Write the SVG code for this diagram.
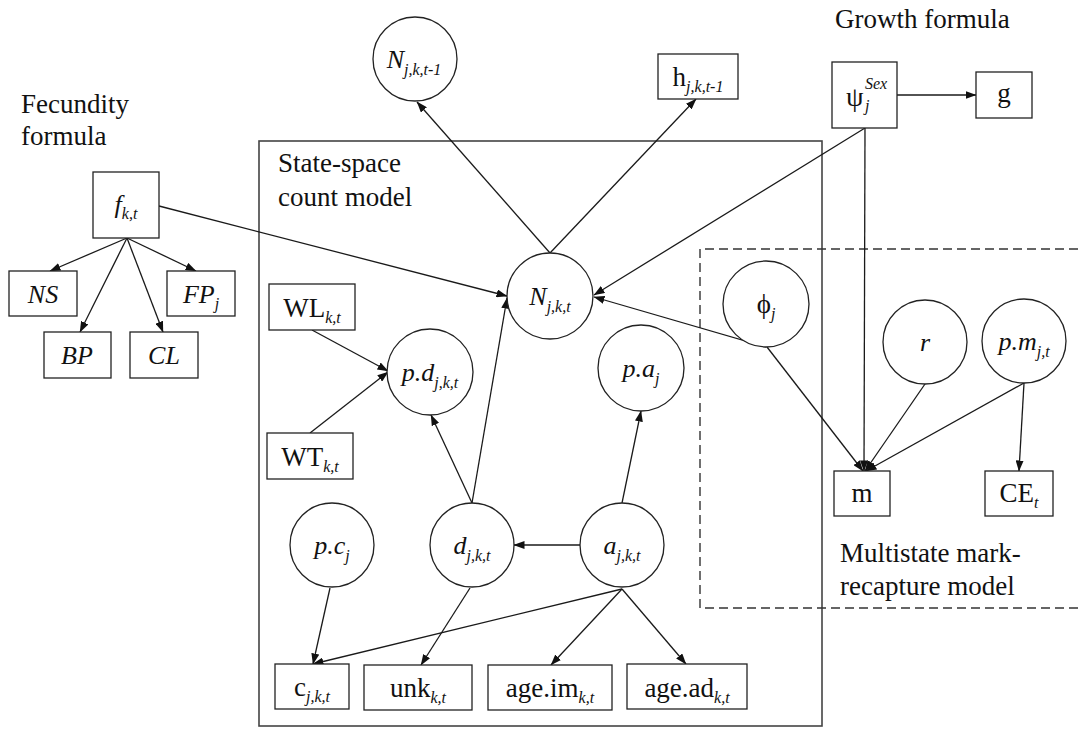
<svg xmlns="http://www.w3.org/2000/svg" width="1078" height="730" viewBox="0 0 1078 730">
<defs>
<marker id="ah" markerUnits="userSpaceOnUse" markerWidth="11" markerHeight="8" refX="10.5" refY="4" orient="auto">
<path d="M0,0 L11,4 L0,8 z" fill="#111"/>
</marker>
<style>
.bg{fill:#fff}
.shape{fill:#fff;stroke:#222;stroke-width:1.3}
.frame{fill:none;stroke:#444;stroke-width:1.6}
.dash{fill:none;stroke:#333;stroke-width:1.4;stroke-dasharray:9,5}
.edge{fill:none;stroke:#1a1a1a;stroke-width:1.3;marker-end:url(#ah)}
text{font-family:"Liberation Serif","Noto Serif","DejaVu Serif",FreeSerif,"Nimbus Roman","Nimbus Roman No9 L",Times,Tinos,serif;fill:#111}
.lbl{font-size:27px}
.t{font-size:27px;text-anchor:middle}
.c{font-size:26px;text-anchor:middle;font-style:italic}
.s{font-size:16px;font-style:italic}
</style>
</defs>
<rect class="bg" x="0" y="0" width="1078" height="730"/>

<g id="regions">
<rect class="frame" x="259" y="141" width="563" height="585"/>
<path class="dash" d="M1078,249 H700 V608 H1078"/>
<text class="lbl" x="21" y="113">Fecundity</text>
<text class="lbl" x="21" y="145">formula</text>
<text class="lbl" x="835" y="28">Growth formula</text>
<text class="lbl" x="278" y="172">State-space</text>
<text class="lbl" x="278" y="206">count model</text>
<text class="lbl" x="840" y="562">Multistate mark-</text>
<text class="lbl" x="840" y="595">recapture model</text>
</g>

<g id="connectors">
<path class="edge" d="M550,253 L417,102"/>
<path class="edge" d="M550,253 L696,99"/>
<path class="edge" d="M865,128 L594,295"/>
<path class="edge" d="M766,347 L594,297"/>
<path class="edge" d="M159,206 L507,296"/>
<path class="edge" d="M472,503 L507,298"/>
<path class="edge" d="M472,503 L431,415"/>
<path class="edge" d="M622,503 L641,411"/>
<path class="edge" d="M580,545 L514,545"/>
<path class="edge" d="M312,330 L388,371"/>
<path class="edge" d="M310,433 L388,372"/>
<path class="edge" d="M330,588 L313,664"/>
<path class="edge" d="M622,589 L313,664"/>
<path class="edge" d="M470,588 L421,665"/>
<path class="edge" d="M622,589 L551,665"/>
<path class="edge" d="M622,589 L686,664"/>
<path class="edge" d="M127,238 L50,271"/>
<path class="edge" d="M127,238 L196,271"/>
<path class="edge" d="M127,238 L80,332"/>
<path class="edge" d="M127,238 L163,332"/>
<path class="edge" d="M897,95 L976,95"/>
<path class="edge" d="M767,347 L863,471"/>
<path class="edge" d="M865,128 L864,471"/>
<path class="edge" d="M925,384 L865,471"/>
<path class="edge" d="M1024,383 L866,471"/>
<path class="edge" d="M1024,383 L1019,471"/>
</g>

<g id="n-Nprev"><circle class="shape" cx="415" cy="59" r="42"/><text class="c" x="414" y="68">N<tspan class="s" dy="7">j,k,t-1</tspan></text></g>
<g id="n-h"><rect class="shape" x="658" y="54" width="80" height="45"/><text class="t" x="698" y="86">h<tspan class="s" dy="6">j,k,t-1</tspan></text></g>
<g id="n-psi"><rect class="shape" x="832" y="62" width="65" height="66"/>
<text x="846" y="106" style="font-size:28px">ψ</text>
<text class="s" x="865" y="111">j</text>
<text class="s" x="865" y="89">Sex</text></g>
<g id="n-g"><rect class="shape" x="976" y="72" width="56" height="46"/><text class="t" x="1004" y="102">g</text></g>
<g id="n-f"><rect class="shape" x="93" y="172" width="66" height="66"/><text class="c" x="126" y="213">f<tspan class="s" dy="6">k,t</tspan></text></g>
<g id="n-NS"><rect class="shape" x="9" y="271" width="68" height="45"/><text class="c" x="43" y="303">NS</text></g>
<g id="n-FP"><rect class="shape" x="167" y="271" width="68" height="45"/><text class="c" x="201" y="303">FP<tspan class="s" dy="6">j</tspan></text></g>
<g id="n-BP"><rect class="shape" x="44" y="332" width="67" height="46"/><text class="c" x="77" y="364">BP</text></g>
<g id="n-CL"><rect class="shape" x="130" y="332" width="68" height="46"/><text class="c" x="164" y="364">CL</text></g>
<g id="n-N"><circle class="shape" cx="550" cy="296" r="43"/><text class="c" x="550" y="305">N<tspan class="s" dy="7">j,k,t</tspan></text></g>
<g id="n-WL"><rect class="shape" x="269" y="284" width="86" height="46"/><text class="t" x="312" y="317">WL<tspan class="s" dy="6">k,t</tspan></text></g>
<g id="n-WT"><rect class="shape" x="267" y="433" width="86" height="46"/><text class="t" x="310" y="466">WT<tspan class="s" dy="6">k,t</tspan></text></g>
<g id="n-pd"><circle class="shape" cx="430" cy="372" r="43"/><text class="c" x="430" y="381">p.d<tspan class="s" dy="7">j,k,t</tspan></text></g>
<g id="n-pa"><circle class="shape" cx="641" cy="368" r="43"/><text class="c" x="641" y="377">p.a<tspan class="s" dy="7">j</tspan></text></g>
<g id="n-phi"><circle class="shape" cx="766" cy="304" r="43"/><text class="t" x="766" y="313">ϕ<tspan class="s" dy="6">j</tspan></text></g>
<g id="n-r"><circle class="shape" cx="925" cy="342" r="42"/><text class="c" x="925" y="351">r</text></g>
<g id="n-pm"><circle class="shape" cx="1024" cy="341" r="42"/><text class="c" x="1024" y="350">p.m<tspan class="s" dy="7">j,t</tspan></text></g>
<g id="n-m"><rect class="shape" x="834" y="471" width="56" height="45"/><text class="t" x="862" y="502">m</text></g>
<g id="n-CE"><rect class="shape" x="985" y="471" width="68" height="45"/><text class="t" x="1019" y="502">CE<tspan class="s" dy="6">t</tspan></text></g>
<g id="n-pc"><circle class="shape" cx="332" cy="545" r="42"/><text class="c" x="332" y="554">p.c<tspan class="s" dy="7">j</tspan></text></g>
<g id="n-d"><circle class="shape" cx="472" cy="545" r="42"/><text class="c" x="472" y="554">d<tspan class="s" dy="7">j,k,t</tspan></text></g>
<g id="n-a"><circle class="shape" cx="622" cy="545" r="42"/><text class="c" x="622" y="554">a<tspan class="s" dy="7">j,k,t</tspan></text></g>
<g id="n-c"><rect class="shape" x="275" y="664" width="74" height="45"/><text class="t" x="312" y="696">c<tspan class="s" dy="6">j,k,t</tspan></text></g>
<g id="n-unk"><rect class="shape" x="364" y="665" width="108" height="45"/><text class="t" x="418" y="697">unk<tspan class="s" dy="6">k,t</tspan></text></g>
<g id="n-ageim"><rect class="shape" x="488" y="665" width="124" height="45"/><text class="t" x="550" y="697">age.im<tspan class="s" dy="6">k,t</tspan></text></g>
<g id="n-agead"><rect class="shape" x="627" y="664" width="120" height="45"/><text class="t" x="687" y="697">age.ad<tspan class="s" dy="6">k,t</tspan></text></g>
</svg>
